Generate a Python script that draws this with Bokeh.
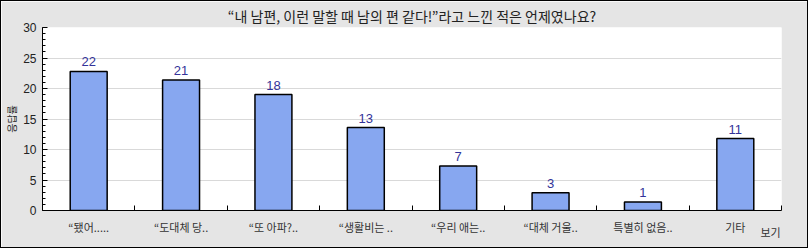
from bokeh.plotting import figure
from bokeh.models import FixedTicker, SingleIntervalTicker, Range1d, ColumnDataSource
from bokeh.core.properties import value
from bokeh.embed import file_html
from bokeh.resources import INLINE

title = "“내 남편, 이런 말할 때 남의 편 같다!”라고 느낀 적은 언제였나요?"
categories = ["“됐어.....", "“도대체 당..", "“또 아파?..", "“생활비는 ..",
              "“우리 애는..", "“대체 거울..", "특별히 없음..", "기타"]
percent = [22.8, 21.4, 19.0, 13.6, 7.3, 2.9, 1.4, 11.8]
counts = [22, 21, 18, 13, 7, 3, 1, 11]
y_label = "응답률"
x_label = "보기"

FONT = "Noto Sans CJK KR"
NUM_FONT = "Liberation Sans"
BG = "#e5e5e5"

n = len(categories)
xs = [i + 0.5 for i in range(n)]
src = ColumnDataSource(dict(x=xs, top=percent, lab=[str(c) for c in counts]))

p = figure(width=808, height=248, output_backend="svg", toolbar_location=None,
           x_range=Range1d(0, n), y_range=Range1d(0, 30),
           min_border_left=40, min_border_right=28, min_border_top=26, min_border_bottom=39,
           background_fill_color="white", border_fill_color=BG, title=title)
p.styles = {"border": "1px solid black"}
p.outline_line_color = None

p.title.text_font = FONT
p.title.text_font_size = "14px"
p.title.text_font_style = "normal"
p.title.text_color = "#222222"
p.title.align = "center"
p.title.standoff = 3
p.title.offset = -5

p.vbar(x="x", top="top", width=0.4, source=src, fill_color="#87a7f0",
       line_color="black", line_width=1.5)
p.text(x="x", y="top", text="lab", source=src, text_align="center", text_baseline="bottom",
       y_offset=-5, text_font=value(NUM_FONT), text_font_size="13px", text_color="#333399")

# x axis
xa = p.xaxis[0]
xa.ticker = FixedTicker(ticks=xs, minor_ticks=list(range(1, n + 1)))
xa.major_label_overrides = {x: c for x, c in zip(xs, categories)}
xa.major_tick_in = 0
xa.major_tick_out = 0
xa.minor_tick_in = 5
xa.minor_tick_out = 0
xa.minor_tick_line_color = "black"
xa.axis_line_color = "black"
xa.major_label_text_font = FONT
xa.major_label_text_font_size = "11px"
xa.major_label_text_color = "#333333"
xa.major_label_standoff = 8

# axis title at the right end (ideographic spaces pad the centred label leftwards)
xa.axis_label_align = "end"
xa.axis_label = x_label + "\u3000\u3000"
xa.axis_label_text_font = FONT
xa.axis_label_text_font_size = "11px"
xa.axis_label_text_font_style = "normal"
xa.axis_label_text_color = "#333333"
xa.axis_label_standoff = -14

# y axis
ya = p.yaxis[0]
ya.ticker = SingleIntervalTicker(interval=5, num_minor_ticks=5)
ya.major_tick_in = 5
ya.major_tick_out = 0
ya.minor_tick_in = 3
ya.minor_tick_out = 0
ya.major_tick_line_color = "black"
ya.minor_tick_line_color = "black"
ya.axis_line_color = "black"
ya.major_label_text_font = NUM_FONT
ya.major_label_text_font_size = "12px"
ya.major_label_text_color = "#222222"
ya.major_label_standoff = 6
ya.axis_label = y_label
ya.axis_label_text_font = FONT
ya.axis_label_text_font_size = "10px"
ya.axis_label_text_font_style = "normal"
ya.axis_label_text_color = "#222222"
ya.axis_label_standoff = 1

p.xgrid.grid_line_color = None
p.ygrid.grid_line_color = "#d9d9d9"
p.ygrid.ticker = SingleIntervalTicker(interval=5)

open("out.html", "w").write(file_html(p, INLINE))
